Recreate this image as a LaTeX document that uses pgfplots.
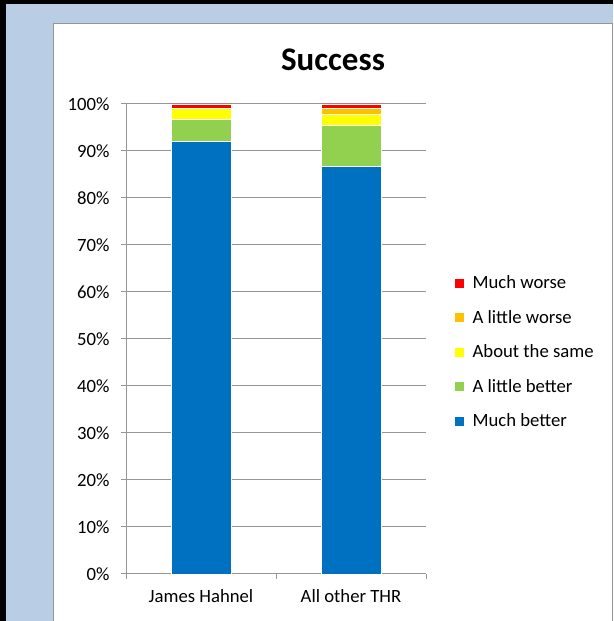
\documentclass[border=0pt]{standalone}
\usepackage{pgfplots}
\pgfplotsset{compat=1.18}
\usepackage{fontspec}
\setmainfont{Carlito}
\definecolor{bgblue}{RGB}{185,205,229}
\definecolor{gridgray}{RGB}{150,150,150}
\definecolor{cblue}{RGB}{0,112,192}
\definecolor{cgreen}{RGB}{146,208,80}
\definecolor{cyellow}{RGB}{255,255,0}
\definecolor{corange}{RGB}{255,192,0}
\definecolor{cred}{RGB}{255,0,0}
\begin{document}
\begin{tikzpicture}
\useasboundingbox (0pt,0pt) rectangle (613pt,621pt);
\fill[black] (0pt,0pt) rectangle (613pt,621pt);
\fill[bgblue] (6pt,0pt) rectangle (613pt,617pt);
\fill[white] (53pt,0pt) rectangle (612pt,597pt);
\draw[gridgray, line width=1pt] (53pt,0pt) -- (53pt,597pt) -- (612pt,597pt) -- (612pt,0pt);
\node[font=\fontsize{33}{40}\selectfont\bfseries, anchor=base] at (333pt,550pt) {Success};
\begin{axis}[
  at={(126pt,47pt)}, anchor=south west,
  scale only axis, width=300pt, height=470pt,
  ybar stacked, bar width=0.4,
  xmin=-0.5, xmax=1.5, ymin=0, ymax=100,
  axis lines*=left,
  axis line style={gridgray, line width=1pt},
  ytick={0,10,...,100},
  yticklabel={\pgfmathprintnumber{\tick}\%},
  yticklabel style={xshift=-8pt},
  ymajorgrids, grid style={gridgray, line width=1pt},
  xtick={-0.5,0.5,1.5}, xticklabels={,,},
  extra x ticks={0,1},
  extra x tick labels={James Hahnel, All other THR},
  extra x tick style={major tick length=0pt, grid=none, tick label style={yshift=-12pt}},
  tick align=outside, major tick length=5pt,
  tick style={gridgray, line width=1pt},
  tick label style={font=\fontsize{18.7}{22}\selectfont},
  /pgf/number format/assume math mode=true,
  reverse legend,
  legend cell align=left,
  legend style={at={(1.0967,0.472)}, anchor=west, draw=none, fill=none,
    row sep=16pt, font=\fontsize{18.7}{22}\selectfont, inner sep=0pt},
  legend image code/.code={\fill[#1, draw=none] (0pt,-4.5pt) rectangle (9pt,4.5pt); \path (15pt,0pt);},
]
\addplot[fill=cblue, draw=white, line width=0.8pt] coordinates {(0,92) (1,86.8)};
\addplot[fill=cgreen, draw=white, line width=0.8pt] coordinates {(0,4.8) (1,8.6)};
\addplot[fill=cyellow, draw=white, line width=0.8pt] coordinates {(0,2.3) (1,2.3)};
\addplot[fill=corange, draw=white, line width=0.8pt] coordinates {(0,0) (1,1.3)};
\addplot[fill=cred, draw=white, line width=0.8pt] coordinates {(0,0.9) (1,1.0)};
\legend{Much better, A little better, About the same, A little worse, Much worse}
\end{axis}
\end{tikzpicture}
\end{document}
